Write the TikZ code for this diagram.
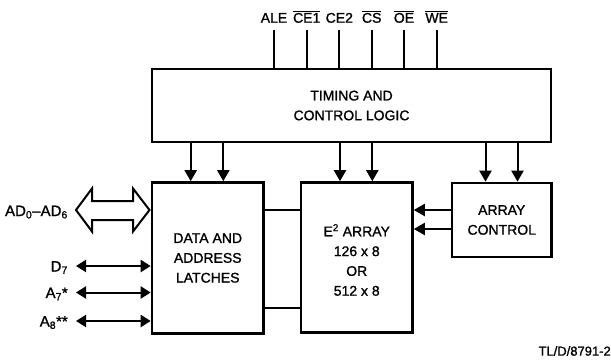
\documentclass[tikz,border=0pt]{standalone}
\usepackage{fontspec}
\setmainfont{Liberation Sans}[FakeBold=1.2]
\usetikzlibrary{arrows.meta,calc}
\newcommand{\ovl}[1]{$\overline{\hbox{#1}}$}
\begin{document}
\begin{tikzpicture}[x=1pt,y=-1pt,
  blk/.style={draw,line width=2.6pt,inner sep=0pt,align=center,
    font=\fontsize{14}{19.8}\selectfont},
  lab/.style={inner sep=0pt,font=\fontsize{14}{16}\selectfont},
  sig/.style={line width=2pt},
  arr/.style={line width=2pt,-{Triangle[length=11pt,width=12pt]}},
  darr/.style={line width=2pt,{Triangle[length=10pt,width=12pt]}-{Triangle[length=10pt,width=12pt]}},
  hollow/.style={draw,line width=2pt,line join=miter}]
\useasboundingbox (0,0) rectangle (611,360);

% blocks
\node[blk,minimum width=399pt,minimum height=73pt] (timing) at (351.5,105.5) {TIMING AND\\CONTROL LOGIC};
\node[blk,minimum width=111.5pt,minimum height=151pt] (latch) at (207.75,258) {DATA AND\\ADDRESS\\LATCHES};
\node[blk,minimum width=111.5pt,minimum height=150pt] (array) at (356.75,257.5) {};
\node[lab,align=center,font=\fontsize{14}{19.8}\selectfont] (arraytxt) at (356.75,260) {E\textsuperscript{2} ARRAY\\126 x 8\\OR\\512 x 8};
\node[blk,minimum width=99.5pt,minimum height=74pt] (ctrl) at (501.75,220) {ARRAY\\CONTROL};

% top signals
\foreach \n/\x/\t in {ale/274/ALE,ceone/306.7/\ovl{CE1},cetwo/339.3/CE2,cs/371.7/\ovl{CS},oe/404/\ovl{OE},we/436.7/\ovl{WE}}{
  \node[lab,anchor=base] (l\n) at (\x,22.7) {\t};
  \coordinate (s\n) at (\x,30);
  \draw[sig] (s\n) -- (timing.north -| s\n);
}

% timing to blocks
\foreach \n/\x/\b in {a/190.7/latch,b/223.3/latch,c/340/array,d/372.3/array,e/485.5/ctrl,f/517.5/ctrl}{
  \coordinate (t\n) at (\x,150);
  \draw[arr] (timing.south -| t\n) -- (\b.north -| t\n);
}

% array control to array
\foreach \n/\y in {a/210,b/229}{
  \coordinate (c\n) at (470,\y);
  \draw[arr] (ctrl.west |- c\n) -- (array.east |- c\n);
}

% latches to array
\foreach \n/\y in {a/210,b/307.5}{
  \coordinate (m\n) at (280,\y);
  \draw[sig] (latch.east |- m\n) -- (array.west |- m\n);
}

% AD bus hollow arrow
\draw[hollow] (76,210) -- (92,188.5) -- (92,201) -- (133,201) -- (133,188.5)
  -- (149.5,210) -- (133,231.5) -- (133,220) -- (92,220) -- (92,231.5) -- cycle;
\node[lab,anchor=base east,font=\fontsize{15}{17}\selectfont] (lad) at (68,216) {AD\textsubscript{0}--AD\textsubscript{6}};

% single-line bidirectional signals
\foreach \n/\y/\t in {d/266/D\textsubscript{7},aseven/292.5/A\textsubscript{7}*,aeight/321/A\textsubscript{8}**}{
  \node[lab,anchor=base east,font=\fontsize{15}{17}\selectfont] (l\n) at (68,\y+5.5) {\t};
  \coordinate (p\n) at (76,\y);
  \draw[darr] (p\n) -- (latch.west |- p\n);
}

\node[lab,anchor=east,font=\fontsize{13}{15}\selectfont] (fig) at (611,351) {TL/D/8791-2};
\end{tikzpicture}
\end{document}
